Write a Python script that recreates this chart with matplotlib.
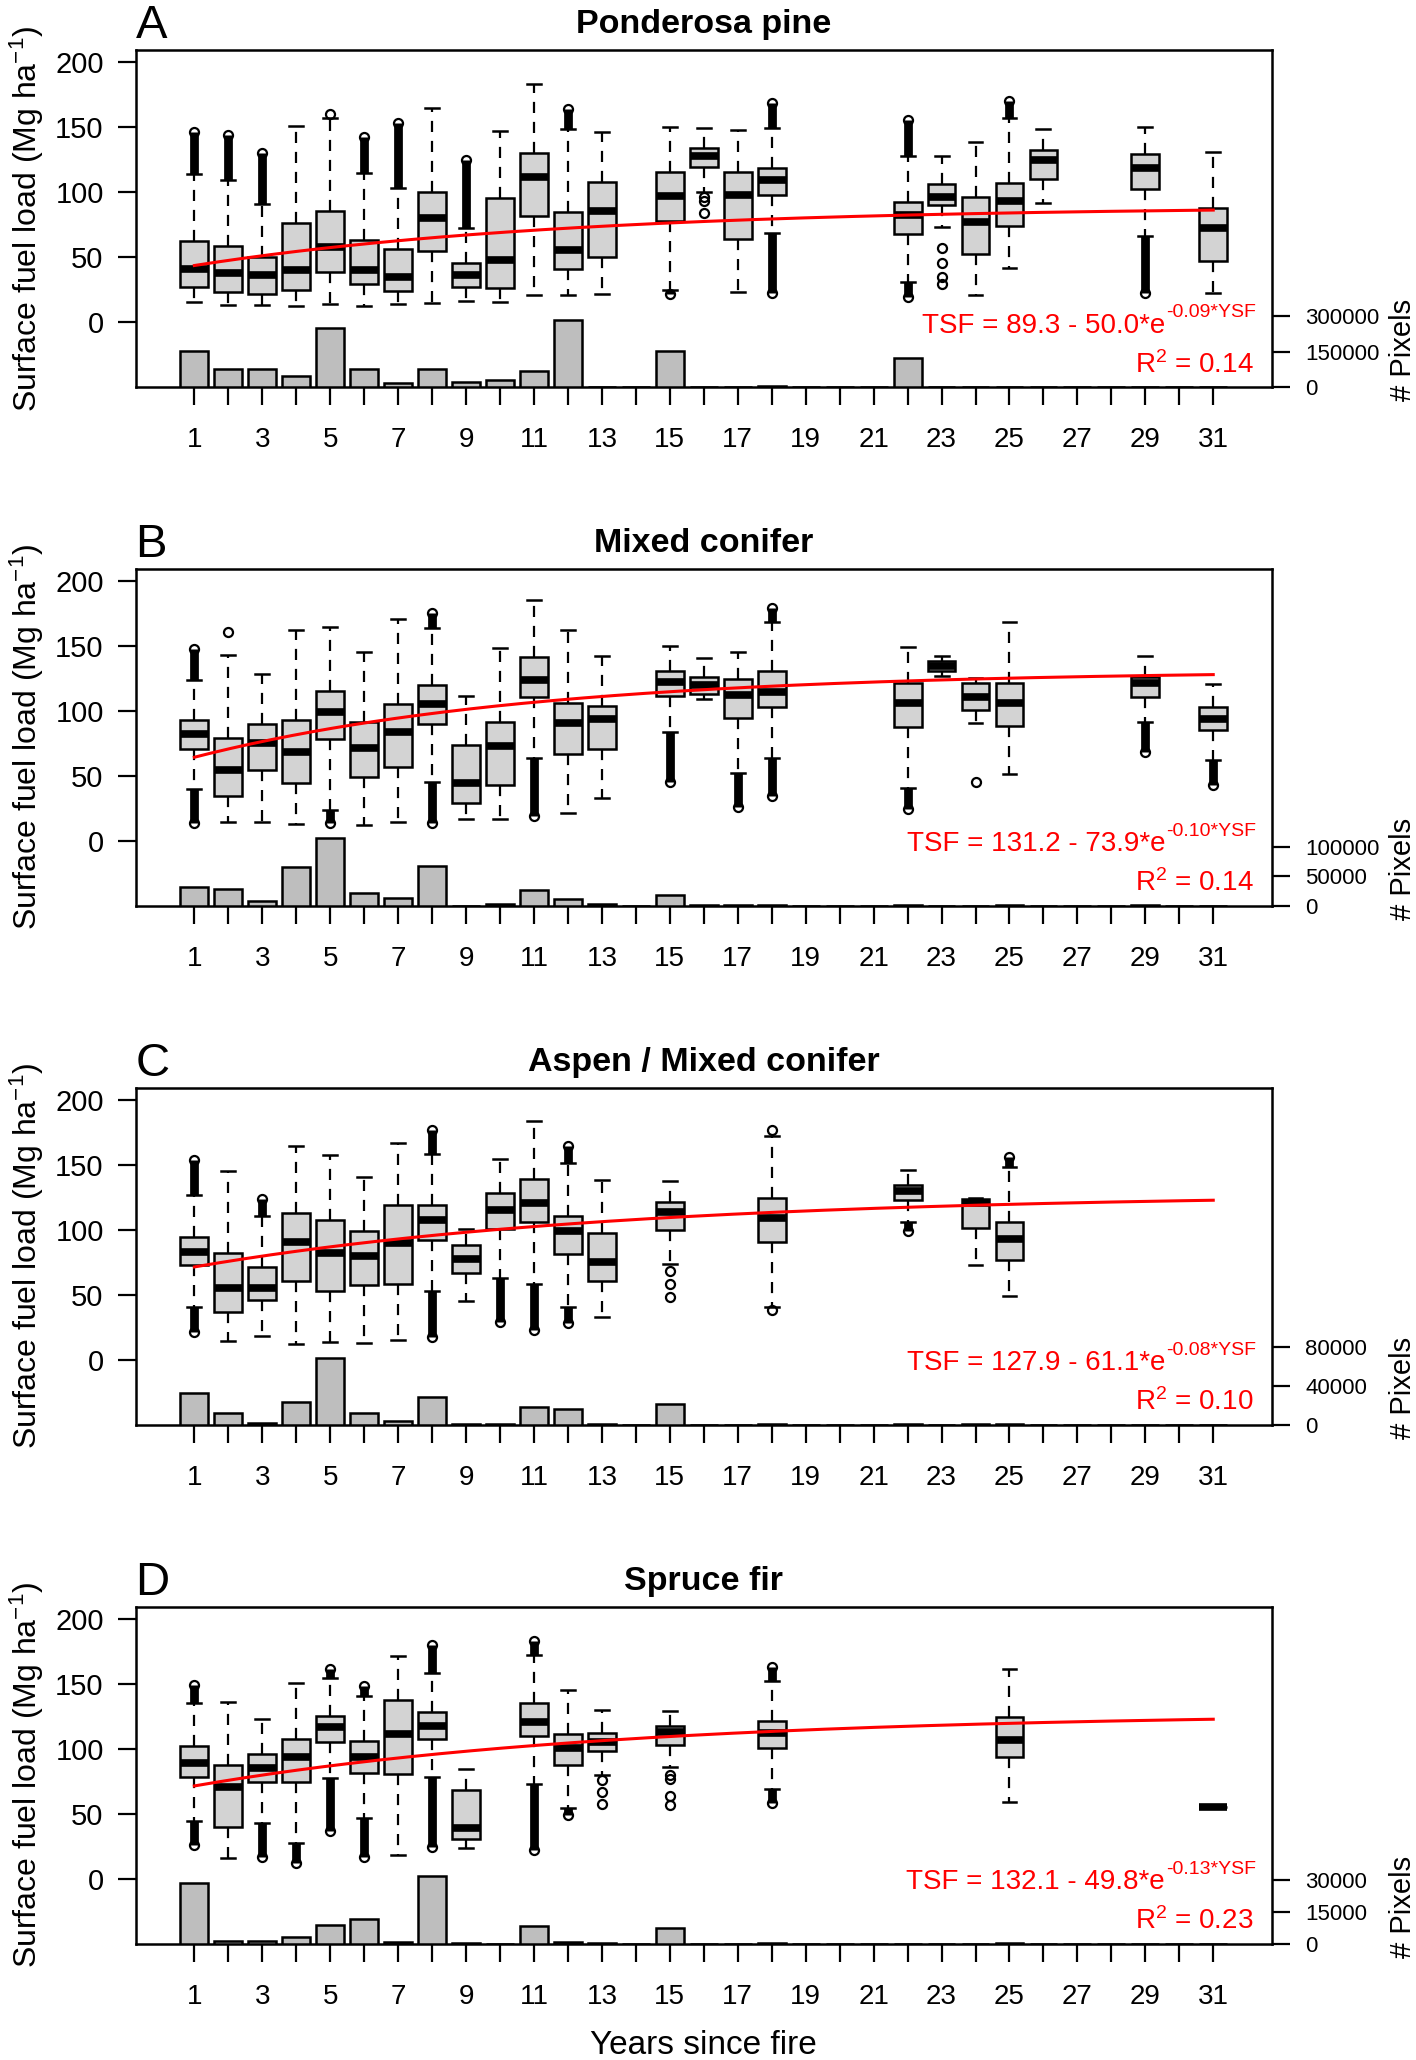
import numpy as np
import matplotlib
matplotlib.use('Agg')
import matplotlib.pyplot as plt
from matplotlib.transforms import ScaledTranslation

plt.rcParams['font.family'] = ['Liberation Sans', 'DejaVu Sans']
plt.rcParams['mathtext.default'] = 'regular'

nan = np.nan

titles = ['Ponderosa pine', 'Mixed conifer', 'Aspen / Mixed conifer', 'Spruce fir']
letters = ['A', 'B', 'C', 'D']

# ---- Panel A : Ponderosa pine ----
a_year = [1, 2, 3, 4, 5, 6, 7, 8, 9, 10, 11, 12, 13, 15, 16, 17, 18, 22, 23, 24, 25, 26, 29, 31]
a_q1 = [27.4, 23.6, 21.5, 25.1, 38.9, 29.2, 23.8, 55.1, 27.4, 26.6, 81.9, 41.2, 50.4, 77.8, 119.6, 64.3, 98.1, 67.6, 90.1, 52.2, 74.0, 110.1, 102.7, 46.9]
a_med = [41.2, 38.2, 36.4, 40.2, 58.1, 40.2, 34.6, 79.9, 36.4, 47.9, 111.4, 55.8, 85.8, 97.0, 128.0, 97.8, 109.1, 82.2, 96.5, 77.3, 93.0, 124.5, 118.8, 72.2]
a_q3 = [62.5, 58.6, 50.2, 76.0, 85.8, 63.5, 56.1, 100.4, 45.3, 95.8, 130.3, 84.8, 107.8, 115.2, 134.2, 115.2, 118.8, 92.2, 106.3, 96.5, 107.3, 132.4, 129.0, 88.1]
a_wlo = [15.4, 13.6, 13.6, 12.3, 14.1, 12.3, 14.1, 14.6, 16.6, 15.4, 20.7, 21.3, 22.0, 24.8, 99.9, 23.3, 68.4, 31.2, 73.5, 21.0, 42.0, 91.9, 66.3, 22.8]
a_whi = [113.7, 109.3, 90.9, 151.0, 156.7, 114.5, 103.0, 165.0, 72.7, 147.0, 183.4, 148.8, 146.0, 150.0, 149.5, 147.8, 149.0, 128.0, 128.0, 138.8, 156.7, 148.3, 149.8, 131.1]
a_top = [146.0, 144.0, 130.0, nan, nan, 142.6, 152.9, nan, 125.0, nan, nan, 163.6, nan, nan, nan, nan, 168.2, 155.4, nan, nan, 170.0, nan, nan, nan]
a_bot = [nan, nan, nan, nan, nan, nan, nan, nan, nan, nan, nan, nan, nan, 21.5, nan, nan, 22.3, 19.7, nan, nan, nan, nan, 22.3, nan]
a_pt_x = [5, 16, 16, 16, 23, 23, 23, 23]
a_pt_y = [159.8, 96.0, 93.0, 83.7, 57.0, 45.3, 35.1, 29.4]
a_pix = [150700, 75000, 77000, 48000, 248000, 75000, 15500, 77000, 22500, 31000, 67600, 284500, 0, 0, 150700,
         500, 1500, 5000, 1000, 0, 0, 124000, 500, 1500, 2000, 500, 0, 0, 1500, 0, 1500]

# ---- Panel B : Mixed conifer ----
b_year = [1, 2, 3, 4, 5, 6, 7, 8, 9, 10, 11, 12, 13, 15, 16, 17, 18, 22, 23, 24, 25, 29, 31]
b_q1 = [70.8, 34.4, 54.6, 44.4, 78.2, 49.0, 56.7, 90.0, 29.5, 42.8, 110.5, 66.7, 70.8, 111.8, 112.8, 94.6, 102.6, 87.4, 130.3, 100.3, 88.7, 110.5, 85.4]
b_med = [82.0, 54.6, 75.1, 68.7, 99.0, 71.3, 83.8, 105.4, 44.4, 72.6, 123.8, 91.0, 93.6, 122.0, 120.0, 112.3, 114.6, 105.9, 134.6, 111.0, 106.4, 121.3, 93.6]
b_q3 = [93.3, 79.2, 90.0, 93.1, 114.9, 91.3, 105.1, 120.0, 73.6, 91.3, 141.3, 106.4, 103.8, 130.3, 125.9, 124.4, 130.3, 121.3, 138.0, 121.3, 121.8, 126.4, 102.6]
b_wlo = [39.7, 14.4, 14.4, 13.1, 23.8, 12.6, 14.4, 45.4, 16.7, 16.7, 63.6, 21.8, 33.3, 84.1, 109.2, 52.0, 64.1, 40.5, 126.9, 90.5, 51.5, 91.8, 62.3]
b_whi = [123.8, 142.6, 128.0, 162.3, 164.1, 145.6, 170.5, 163.6, 111.8, 148.7, 185.4, 162.3, 141.8, 150.0, 140.5, 145.1, 168.0, 149.0, 141.8, 125.6, 168.7, 141.8, 120.5]
b_top = [147.4, nan, nan, nan, nan, nan, nan, 175.6, nan, nan, nan, nan, nan, nan, nan, nan, 179.0, nan, nan, nan, nan, nan, nan]
b_bot = [13.6, nan, nan, nan, 13.6, nan, nan, 13.6, nan, nan, 19.2, nan, nan, 45.1, nan, 26.4, 34.6, 24.4, nan, nan, nan, 68.7, 43.1]
b_pt_x = [2, 24]
b_pt_y = [160.5, 45.6]
b_pix = [32200, 28200, 7900, 66100, 114000, 20900, 13600, 67200, 300, 3400, 26600, 11900, 2300, 0, 18600,
         500, 800, 800, 0, 0, 0, 800, 300, 300, 800, 0, 0, 0, 800, 0, 300]

# ---- Panel C : Aspen / Mixed conifer ----
c_year = [1, 2, 3, 4, 5, 6, 7, 8, 9, 10, 11, 12, 13, 15, 18, 22, 24, 25]
c_q1 = [72.8, 37.2, 46.2, 60.3, 53.3, 57.7, 58.2, 92.3, 66.7, 100.8, 106.4, 81.5, 60.3, 100.0, 91.0, 122.6, 101.3, 76.7]
c_med = [83.1, 55.1, 55.1, 91.0, 82.0, 80.0, 89.7, 107.7, 77.7, 115.4, 120.5, 99.2, 75.4, 114.1, 109.0, 129.5, 120.5, 93.1]
c_q3 = [94.6, 82.0, 71.8, 112.6, 107.7, 99.2, 119.2, 119.2, 88.5, 128.7, 139.0, 110.3, 97.9, 121.8, 124.6, 134.6, 123.6, 106.4]
c_wlo = [41.0, 14.6, 18.7, 12.3, 13.6, 13.3, 15.4, 53.1, 45.6, 62.8, 58.2, 40.5, 33.3, 73.8, 41.0, 106.4, 72.8, 49.5]
c_whi = [126.9, 145.4, 110.3, 164.1, 157.7, 140.5, 166.7, 158.2, 100.8, 154.4, 183.8, 151.3, 138.0, 137.7, 171.8, 146.2, 124.4, 148.7]
c_top = [153.8, nan, 123.8, nan, nan, nan, nan, 176.9, nan, nan, nan, 164.1, nan, nan, nan, nan, nan, 155.9]
c_bot = [21.8, nan, nan, nan, nan, nan, nan, 17.9, nan, 29.5, 23.1, 28.2, nan, nan, nan, 99.5, nan, nan]
c_pt_x = [15, 15, 15, 18, 18]
c_pt_y = [68.7, 58.5, 48.2, 176.9, 38.5]
c_pix = [32800, 11600, 2000, 23600, 68700, 12300, 3800, 28400, 300, 300, 17800, 16100, 1000, 0, 21200,
         0, 0, 1200, 0, 0, 0, 300, 0, 300, 800, 0, 0, 0, 0, 0, 0]

# ---- Panel D : Spruce fir ----
d_year = [1, 2, 3, 4, 5, 6, 7, 8, 9, 11, 12, 13, 15, 18, 25, 31]
d_q1 = [78.2, 39.7, 74.4, 74.9, 105.6, 81.8, 80.5, 107.7, 30.5, 110.0, 87.7, 98.5, 102.8, 100.3, 93.6, 55.1]
d_med = [89.0, 70.3, 85.1, 94.1, 116.7, 94.1, 111.5, 117.9, 39.0, 120.5, 100.5, 105.6, 112.6, 112.1, 106.9, 55.1]
d_q3 = [102.3, 87.4, 96.2, 107.4, 125.4, 106.2, 137.2, 128.7, 68.5, 135.1, 111.5, 112.0, 117.7, 121.3, 124.4, 55.1]
d_wlo = [44.9, 15.9, 42.8, 27.9, 77.4, 46.7, 18.5, 78.7, 23.6, 72.8, 54.4, 80.0, 85.9, 69.0, 59.5, 55.1]
d_whi = [135.6, 135.9, 122.8, 151.0, 154.4, 140.3, 171.5, 158.2, 84.4, 172.3, 145.4, 129.5, 129.2, 151.8, 161.3, 55.1]
d_top = [149.2, nan, nan, nan, 161.5, 148.7, nan, 180.0, nan, 183.1, nan, nan, nan, 162.8, nan, nan]
d_bot = [26.2, nan, 17.2, 12.0, 37.2, 17.2, nan, 24.4, nan, 22.3, 49.2, nan, nan, 58.7, nan, nan]
d_pt_x = [13, 13, 13, 15, 15, 15, 15]
d_pt_y = [76.2, 67.2, 57.4, 80.0, 77.0, 63.5, 57.0]
d_pix = [28600, 1400, 1250, 3300, 8900, 11400, 900, 31600, 100, 0, 8100, 800, 150, 0, 7300,
         0, 0, 400, 0, 0, 0, 0, 0, 0, 100, 0, 0, 0, 0, 0, 50]

# printed fits: TSF = a - b*exp(-k*YSF)
fit_a = [89.3, 131.2, 127.9, 132.1]
fit_b = [50.0, 73.9, 61.1, 49.8]
fit_k = [0.09, 0.10, 0.08, 0.13]
fit_r2 = ['0.14', '0.14', '0.10', '0.23']
# curves as actually drawn (panel D repeats the panel C curve in the source figure)
curve_a = [89.3, 131.2, 127.9, 127.9]
curve_b = [50.0, 73.9, 61.1, 61.1]
curve_k = [0.09, 0.10, 0.08, 0.08]

# right axis (# pixels) ticks and top of scale
pix_ticks = [[0, 150000, 300000], [0, 50000, 100000], [0, 40000, 80000], [0, 15000, 30000]]
pix_top = [1424000, 571000, 345600, 157800]

panels = [
    (a_year, a_q1, a_med, a_q3, a_wlo, a_whi, a_top, a_bot, a_pt_x, a_pt_y, a_pix),
    (b_year, b_q1, b_med, b_q3, b_wlo, b_whi, b_top, b_bot, b_pt_x, b_pt_y, b_pix),
    (c_year, c_q1, c_med, c_q3, c_wlo, c_whi, c_top, c_bot, c_pt_x, c_pt_y, c_pix),
    (d_year, d_q1, d_med, d_q3, d_wlo, d_whi, d_top, d_bot, d_pt_x, d_pt_y, d_pix),
]

years_all = np.arange(1, 32)
W, H = 1416, 2060
fig = plt.figure(figsize=(W / 100, H / 100), dpi=100)
renderer = fig.canvas.get_renderer()
ax_tops = [50, 568.7, 1087.7, 1606.7]
ax_h = 337
ax_left, ax_right = 135.6, 1272

for i, (yr, q1, med, q3, wlo, whi, top, bot, px, py, pix) in enumerate(panels):
    ax = fig.add_axes([ax_left / W, 1 - (ax_tops[i] + ax_h) / H, (ax_right - ax_left) / W, ax_h / H])
    stats = [dict(q1=q1[j], med=med[j], q3=q3[j], whislo=wlo[j], whishi=whi[j], fliers=[])
             for j in range(len(yr))]
    ax.bxp(stats, positions=yr, widths=0.82, capwidths=0.41, patch_artist=True, manage_ticks=False,
           boxprops=dict(facecolor='#D3D3D3', edgecolor='black', linewidth=1.8),
           medianprops=dict(color='black', linewidth=5.5, solid_capstyle='butt'),
           whiskerprops=dict(color='black', linewidth=1.6, linestyle=(0, (5, 4))),
           capprops=dict(color='black', linewidth=1.8))
    # dense outlier columns
    for j, x in enumerate(yr):
        if not np.isnan(top[j]):
            ax.vlines(x, whi[j], top[j], colors='black', lw=6.3)
            ax.plot(x, top[j], 'o', mfc='none', mec='black', ms=6.5, mew=1.6)
        if not np.isnan(bot[j]):
            ax.vlines(x, bot[j], wlo[j], colors='black', lw=6.3)
            ax.plot(x, bot[j], 'o', mfc='none', mec='black', ms=6.5, mew=1.6)
    ax.plot(px, py, 'o', mfc='none', mec='black', ms=6.5, mew=1.6, ls='none')

    xs = np.linspace(1, 31, 200)
    ax.plot(xs, curve_a[i] - curve_b[i] * np.exp(-curve_k[i] * xs), color='red', lw=2.2, zorder=5)

    ax.set_xlim(-0.73, 32.73)
    ax.set_ylim(-49.8, 209.3)
    ax.set_yticks([0, 50, 100, 150, 200])
    ax.set_xticks(years_all)
    ax.set_xticklabels([str(v) if v % 2 else '' for v in years_all])
    ax.tick_params(axis='x', length=13, width=1.6, labelsize=20, pad=16)
    ax.tick_params(axis='y', length=13, width=1.6, labelsize=21, pad=10)
    for s in ax.spines.values():
        s.set_linewidth(1.8)
    ax.set_ylabel(r'Surface fuel load (Mg ha$^{-1}$)', fontsize=23, va='center')
    ax.yaxis.set_label_coords(-0.096, 0.5)
    ax.set_title(titles[i], fontsize=24.5, fontweight='bold', pad=12)
    ax.text(0.0, 1.036, letters[i], transform=ax.transAxes, fontsize=34, ha='left', va='baseline')

    ax2 = ax.twinx()
    ax2.bar(years_all, pix, width=0.82, color='#BEBEBE', edgecolor='black', linewidth=1.8)
    ax2.set_ylim(0, pix_top[i])
    ax2.set_yticks(pix_ticks[i])
    ax2.set_yticklabels([str(v) for v in pix_ticks[i]])
    ax2.tick_params(axis='y', length=13, width=1.6, labelsize=16, pad=11)
    for s in ax2.spines.values():
        s.set_visible(False)
    ax2.set_ylabel('# Pixels', fontsize=21, va='center')
    ax2.yaxis.set_label_coords(1.115, 0.11)

    # equation: main part + raised exponent
    sup = ax2.text(0.986, 0.161, '-%.2f*YSF' % fit_k[i], color='red', fontsize=14, ha='right', va='baseline',
                   transform=ax2.transAxes + ScaledTranslation(0, 11 / 72, fig.dpi_scale_trans))
    w = sup.get_window_extent(renderer).width
    ax2.text(0.986, 0.161, 'TSF = %.1f - %.1f*e' % (fit_a[i], fit_b[i]), color='red', fontsize=20,
             ha='right', va='baseline',
             transform=ax2.transAxes + ScaledTranslation(-(w + 1) / fig.dpi, 0, fig.dpi_scale_trans))
    ax2.text(0.984, 0.0425, 'R$^{2}$ = ' + fit_r2[i], transform=ax2.transAxes, color='red',
             fontsize=20, ha='right', va='baseline')

fig.text((ax_left + ax_right) / 2 / W, 1 - 2045 / H, 'Years since fire', fontsize=24, ha='center', va='center')

fig.savefig('out.png', dpi=100)
